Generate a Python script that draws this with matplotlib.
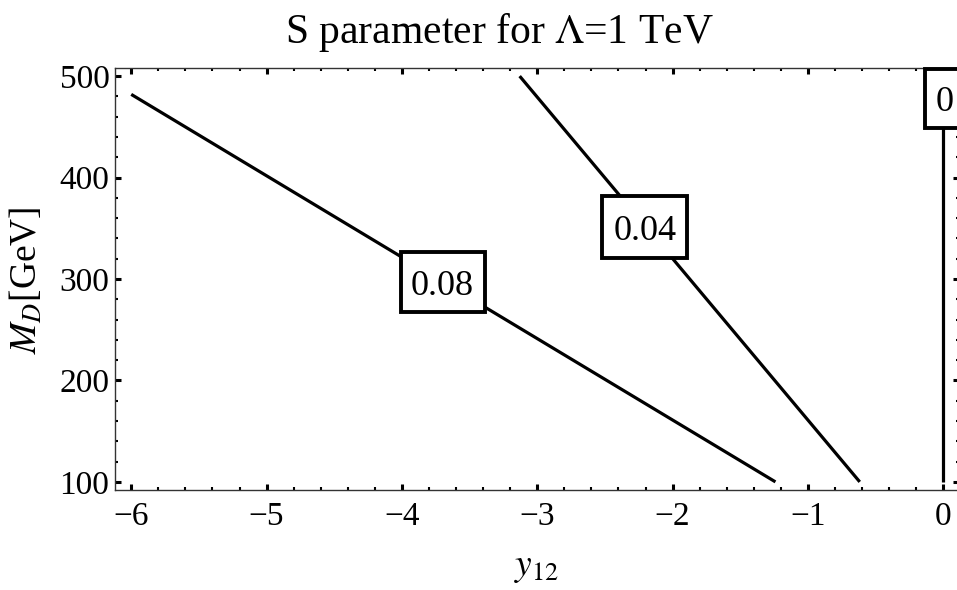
import numpy as np
import matplotlib.pyplot as plt
import matplotlib.transforms as mtransforms
from matplotlib.patches import Rectangle
from matplotlib.ticker import MultipleLocator

# Contour levels and their traced lines (y12, M_D)
levels = ["0.08", "0.04", "0"]
line_x = [[-6.0, -1.24], [-3.13, -0.617], [0.0, 0.0]]
line_y = [[482, 100], [500, 100], [100, 500]]

# Where each contour label sits
label_x = [-3.70, -2.206, 0.012]
label_y = [297, 351, 477.5]

x_ticks = [-6, -5, -4, -3, -2, -1, 0]
y_ticks = [100, 200, 300, 400, 500]


def main():
    plt.rcParams['font.family'] = ['Liberation Serif', 'DejaVu Serif']
    plt.rcParams['mathtext.fontset'] = 'stix'

    W, H = 957, 590
    fig = plt.figure(figsize=(W / 100, H / 100), dpi=100)
    ax = fig.add_axes([115 / W, (H - 490) / H, (959.5 - 115) / W, (490 - 68) / H])

    for xs, ys in zip(line_x, line_y):
        ax.plot(xs, ys, color='black', lw=2.3, solid_capstyle='butt', zorder=2)

    # label boxes (size in inches, roughly 84x60 px; the "0" one is narrower)
    box_w = [0.84, 0.85, 0.40]
    box_h = [0.60, 0.62, 0.59]
    for txt, lx, ly, bw, bh in zip(levels, label_x, label_y, box_w, box_h):
        tr = fig.dpi_scale_trans + mtransforms.ScaledTranslation(lx, ly, ax.transData)
        ax.add_patch(Rectangle((-bw / 2, -bh / 2), bw, bh, transform=tr,
                               fc='white', ec='black', lw=2.8, zorder=4,
                               clip_on=False))
        ax.text(lx, ly, txt, fontsize=26, ha='center', va='center_baseline',
                zorder=5)

    ax.set_xlim(-6.12, 0.12)
    ax.set_ylim(92, 508)
    ax.set_xticks(x_ticks)
    ax.set_yticks(y_ticks)
    ax.xaxis.set_minor_locator(MultipleLocator(0.2))
    ax.yaxis.set_minor_locator(MultipleLocator(20))
    ax.tick_params(which='both', direction='in', top=True, right=True, labelsize=24)
    ax.tick_params(which='major', length=4, width=2.2)
    ax.tick_params(which='minor', length=2.5, width=1.5)
    ax.tick_params(axis='x', pad=8)
    ax.tick_params(axis='y', pad=4)
    for sp in ax.spines.values():
        sp.set_linewidth(1.0)
        sp.set_color('#333333')

    fig.text(499 / W, 1 - 32 / H, r'S parameter for $\Lambda$=1 TeV',
             fontsize=30, ha='center', va='center')
    fig.text(537 / W, 1 - 568 / H, r'$y_{12}$', fontsize=27, ha='center', va='center')
    fig.text(27 / W, 1 - 280 / H, r'$M_D$[GeV]', fontsize=27, ha='center',
             va='center', rotation=90)

    fig.savefig('out.png', dpi=100)


if __name__ == "__main__":
    main()
